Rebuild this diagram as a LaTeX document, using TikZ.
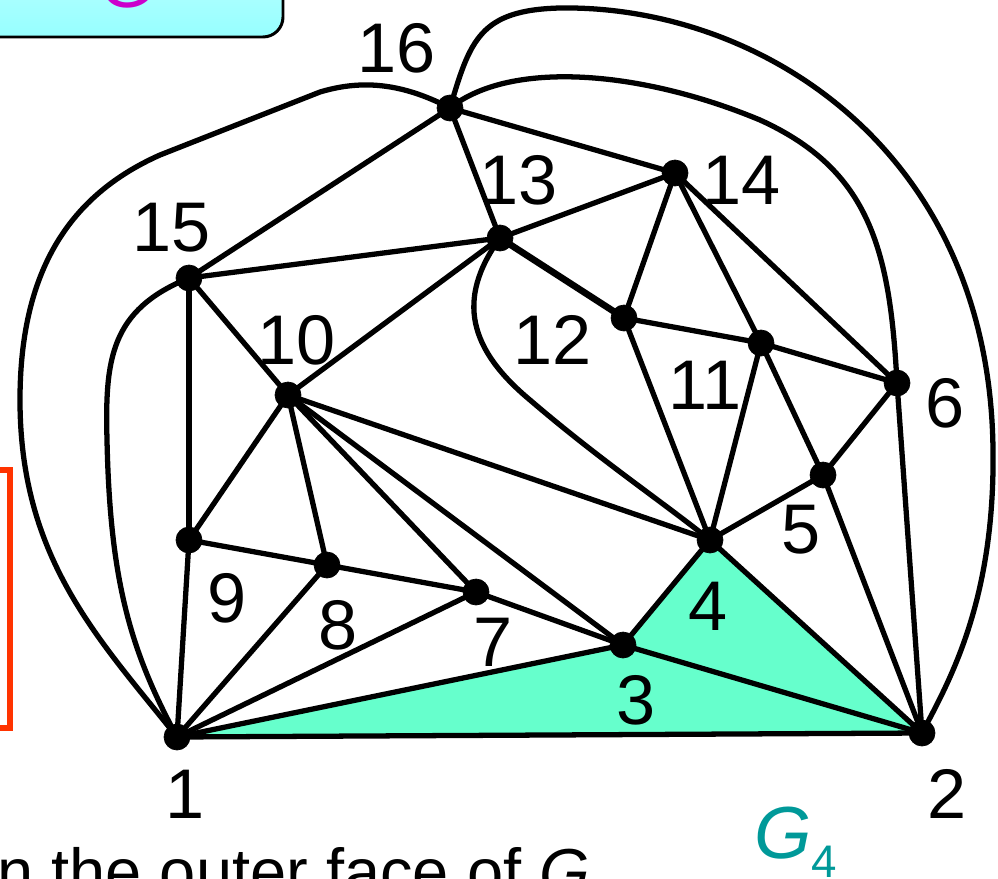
\documentclass[tikz,border=0pt]{standalone}
\usepackage{fontspec}
\setmainfont{Liberation Sans}
\usepackage{xcolor}
\usepackage{tikz}
\definecolor{gfour}{RGB}{102,255,204}
\definecolor{gteal}{RGB}{0,153,153}
\definecolor{boxtop}{RGB}{204,255,255}
\definecolor{boxbot}{RGB}{150,255,255}
\definecolor{titlemag}{RGB}{204,0,204}
\definecolor{framered}{RGB}{255,51,0}

\begin{document}
\begin{tikzpicture}[x=0.02cm,y=-0.02cm,
    edge/.style={line width=3pt},
    lbl/.style={inner sep=0pt,font=\fontsize{40}{40}\selectfont}]
  \useasboundingbox (0,0) rectangle (998,879);
  % pieces cut by the page
  \draw[line width=1.7pt,rounded corners=0.4cm,top color=boxtop,bottom color=boxbot] (-60,-80) rectangle (283,37);
  \node[text=titlemag,font=\fontsize{40}{40}\selectfont,inner sep=0pt] (title) at (127,-17) {G};
  \draw[framered,line width=3pt] (-60,470) rectangle (10,728);
  \node[anchor=base west,inner sep=0pt,font=\fontsize{37}{37}\selectfont] (caption) at (-3,894) {n the outer face of \textit{G}};

  \foreach \n/\x/\y in {1/177/737,2/922/733,3/623/645,4/710/540,5/823/475,6/897/383,
                        7/476/592,8/327/565,9/189/540,10/288/395,11/761/343,12/624/318,
                        13/500/238,14/675/173,15/189/278,16/450/108}
    \coordinate (v\n) at (\x,\y);

  % G_4
  \fill[gfour] (v1) -- (v3) -- (v4) -- (v2) -- cycle;

  \foreach \a/\b in {1/2,1/3,1/7,1/8,1/9,2/3,2/4,2/5,2/6,3/4,3/7,3/10,4/5,4/10,4/11,4/12,
                     5/6,5/11,6/11,6/14,7/8,7/10,8/9,8/10,9/10,9/15,10/13,10/15,11/12,
                     11/14,12/14,13/14,13/15,13/16,14/16,15/16}
    \draw[edge] (v\a) -- (v\b);
  \draw[edge,line width=3.8pt] (v13) -- (v12);

  \draw[edge] (v16) .. controls (400,82) and (360,80) .. (320,92) -- (160,155)
    .. controls (70,195) and (20,270) .. (20,400) .. controls (20,560) and (100,640) .. (v1);
  \draw[edge] (v15) .. controls (110,310) and (105,360) .. (107,440) .. controls (110,580) and (130,650) .. (v1);
  \draw[edge] (v16) .. controls (510,60) and (640,70) .. (760,120) .. controls (870,170) and (890,250) .. (v6);
  \draw[edge] (v16) .. controls (470,40) and (480,10) .. (560,8) .. controls (760,5) and (990,150) .. (993,450) .. controls (995,600) and (950,680) .. (v2);
  \draw[edge] (v13) .. controls (455,300) and (470,350) .. (530,400) .. controls (600,460) and (660,500) .. (v4);

  \foreach \n in {1,...,16}
    \filldraw (v\n) circle (0.26cm);

  \foreach \n/\x/\y in {1/185/794,2/947/794,3/636/700,4/708/606,5/801/530,6/945/403,
                        7/493/642,8/338/625,9/227/598,10/297/340,11/705/385,12/553/340,
                        13/519/180,14/742/180,15/172/228,16/397/48}
    \node[lbl] (l\n) at (\x,\y) {\n};

  \node[text=gteal,anchor=base west,inner sep=0pt,font=\fontsize{42}{42}\selectfont] (gk) at (754,858)
    {\textit{G}\raisebox{-11pt}{\fontsize{26}{26}\selectfont 4}};
\end{tikzpicture}
\end{document}
